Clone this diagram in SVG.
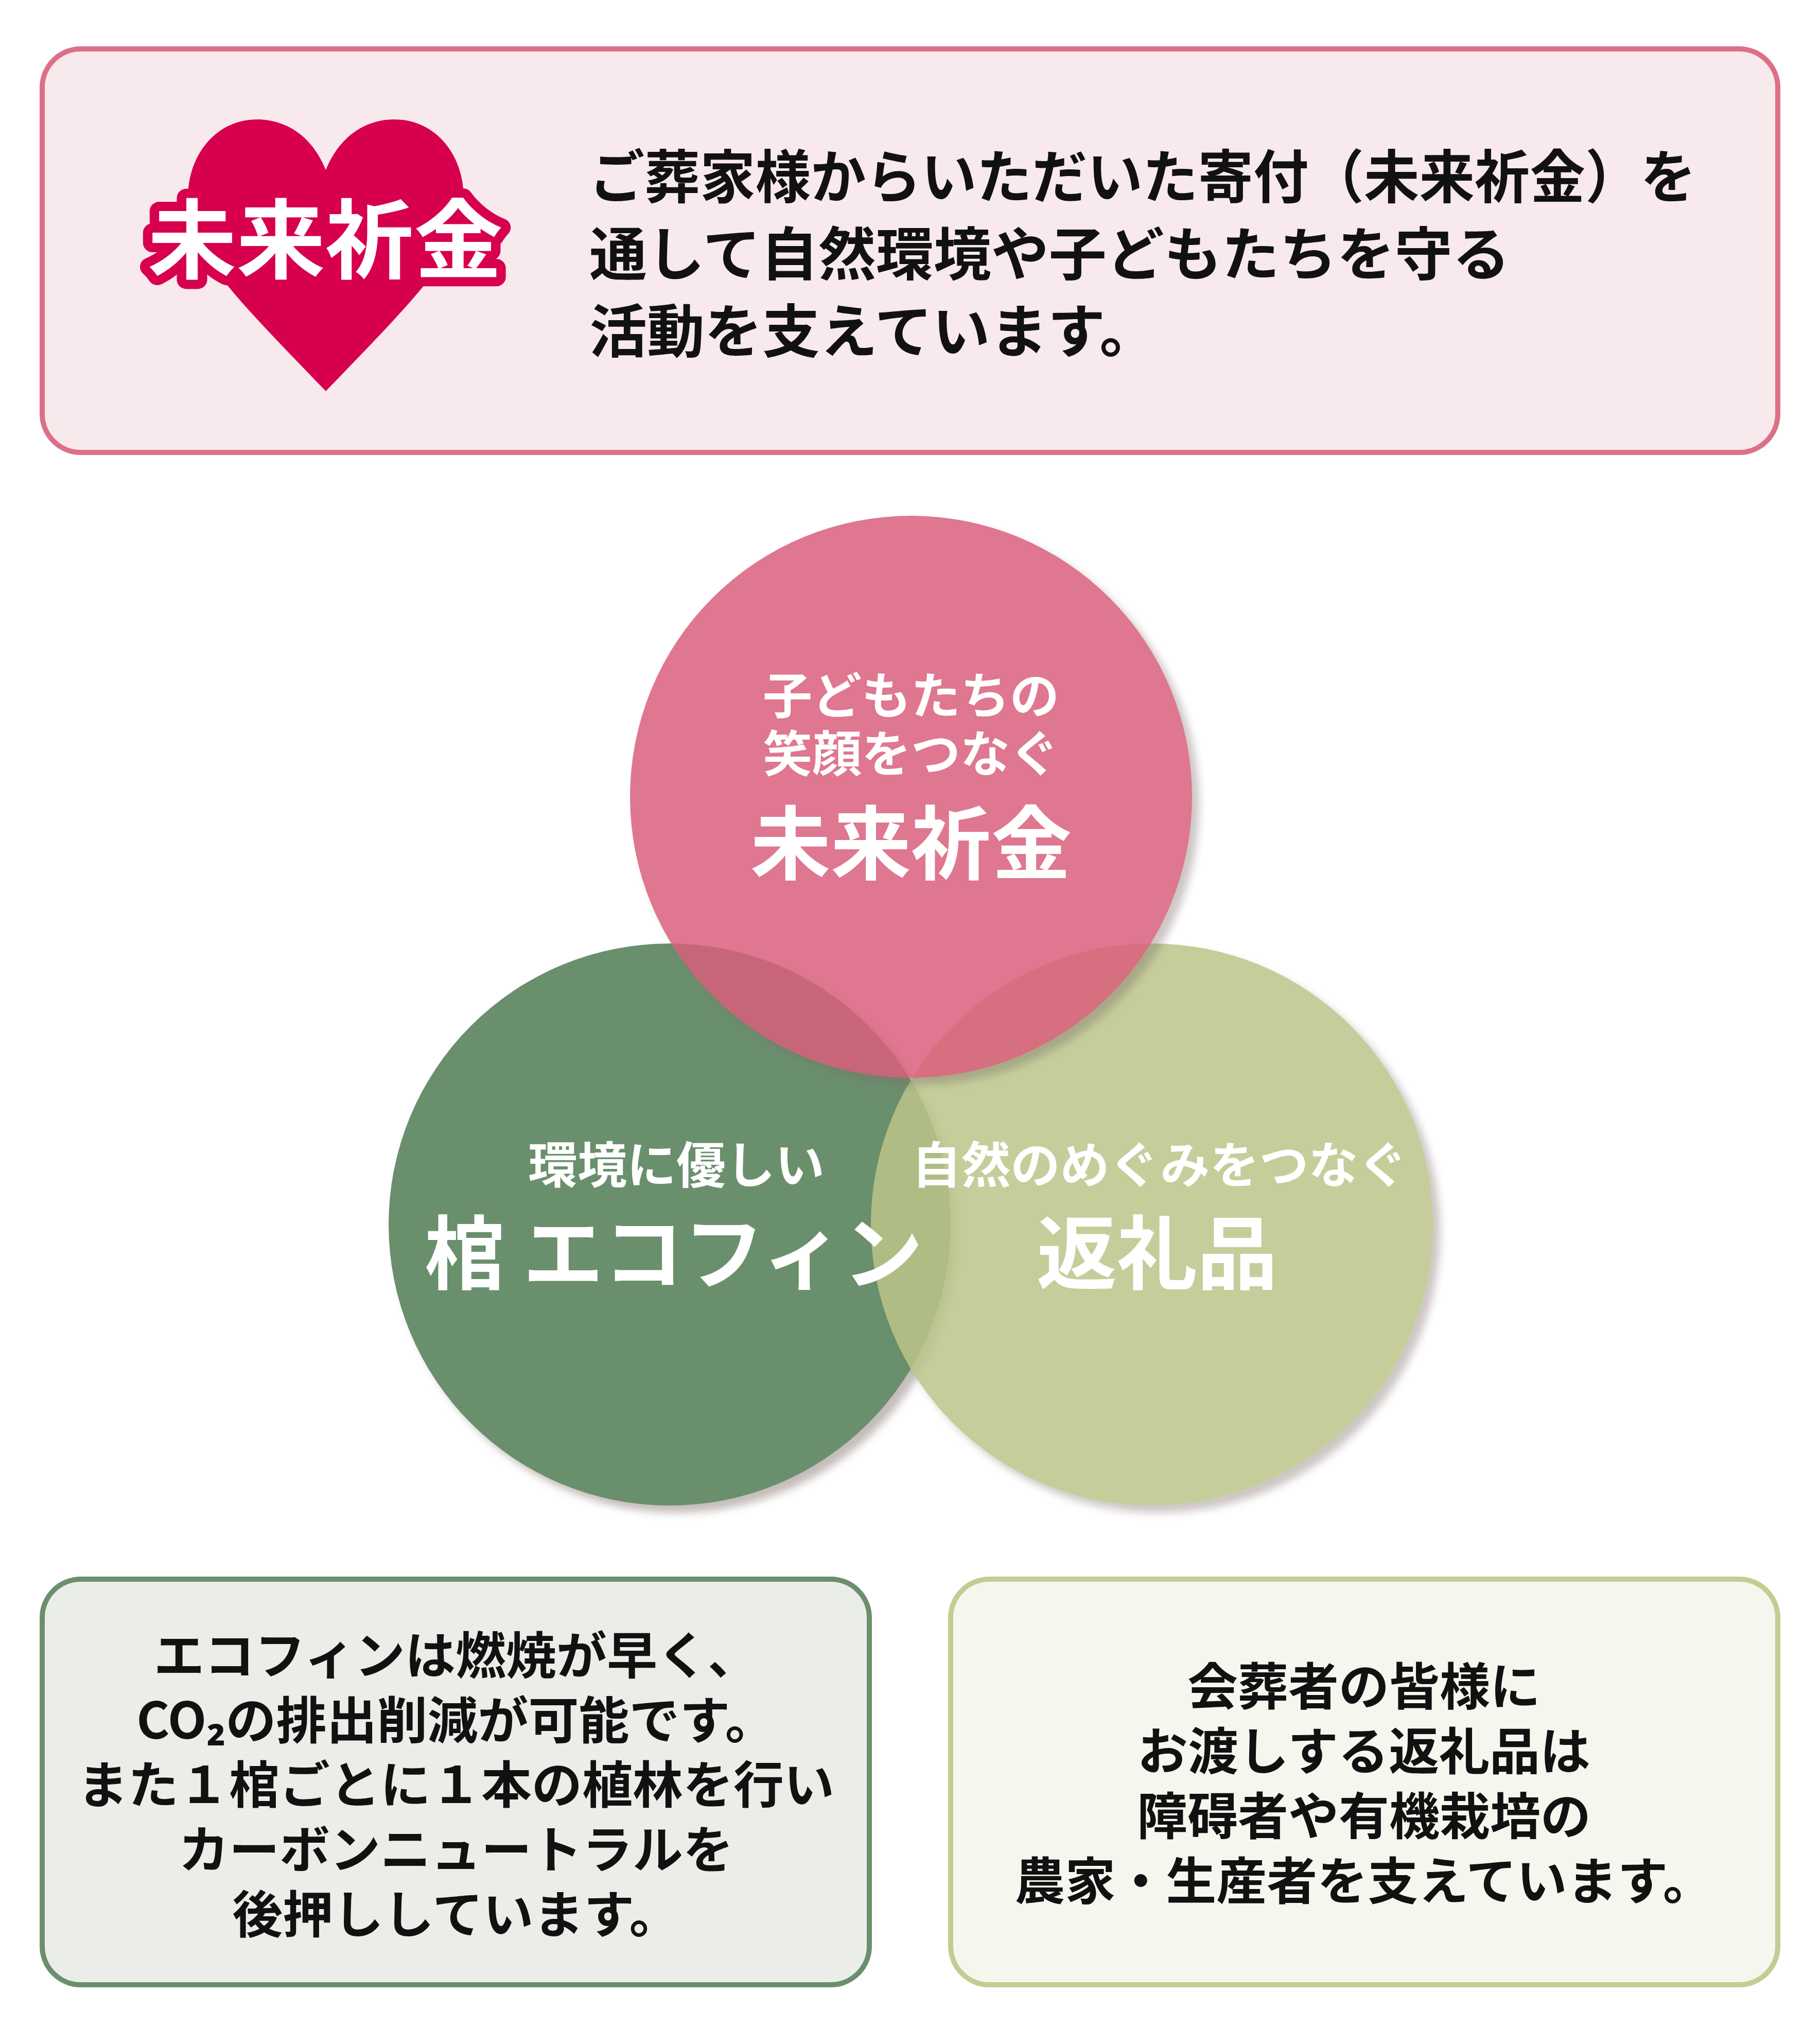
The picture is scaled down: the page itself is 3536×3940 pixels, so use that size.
<svg xmlns="http://www.w3.org/2000/svg" width="3536" height="3940" viewBox="0 0 3536 3940">
<style>
text{font-family:"Noto Sans CJK JP","Noto Sans",sans-serif;font-weight:700}
.dark{fill:#111}
.w{fill:#fff;text-anchor:middle}
.c{text-anchor:middle;fill:#111;font-size:98px}
</style>
<defs>
<filter id="sh" x="-20%" y="-20%" width="140%" height="140%"><feDropShadow dx="14" dy="14" stdDeviation="8" flood-color="#7a6a66" flood-opacity="0.45"/></filter>
</defs>
<rect width="3536" height="3940" fill="#fff"/>
<g id="top-box">
<rect x="82" y="95" width="3372" height="784" rx="75" fill="#f8e9ec" stroke="#dc7087" stroke-width="10"/>
<path d="M633,330 C600,250 540,232 500,232 C420,232 365,300 365,385 C365,485 440,560 633,760 C826,560 901,485 901,385 C901,300 846,232 766,232 C726,232 666,250 633,330 Z" fill="#d6004f"/>
<text x="632" y="528" class="w" font-size="168" textLength="690" lengthAdjust="spacingAndGlyphs" stroke="#d6004f" stroke-width="36" stroke-linejoin="round" paint-order="stroke">未来祈金</text>
<text x="1145" y="385" class="dark" font-size="112" textLength="2150" lengthAdjust="spacingAndGlyphs">ご葬家様からいただいた寄付（未来祈金）を</text>
<text x="1145" y="535" class="dark" font-size="112">通して自然環境や子どもたちを守る</text>
<text x="1145" y="685" class="dark" font-size="112">活動を支えています。</text>
</g>
<g id="circle-green"><circle cx="1301" cy="2379" r="546" fill="#6b8f6d" filter="url(#sh)"/></g>
<g id="circle-olive"><circle cx="2238" cy="2379" r="546" fill="#bcc68a" opacity="0.85" filter="url(#sh)"/></g>
<g id="circle-pink"><circle cx="1770" cy="1548" r="546" fill="#d9607c" opacity="0.85" filter="url(#sh)"/></g>
<g id="labels">
<text x="1770" y="1386" class="w" font-size="96">子どもたちの</text>
<text x="1770" y="1499" class="w" font-size="96">笑顔をつなぐ</text>
<text x="1770" y="1696" class="w" font-size="156">未来祈金</text>
<text x="1314" y="2298" class="w" font-size="96">環境に優しい</text>
<text x="1309" y="2492" class="w" font-size="156">棺 エコフィン</text>
<text x="2253" y="2298" class="w" font-size="96">自然のめぐみをつなぐ</text>
<text x="2248" y="2492" class="w" font-size="156">返礼品</text>
</g>
<g id="box-left">
<rect x="82" y="3068" width="1607" height="788" rx="75" fill="#ebeee8" stroke="#6b8f6d" stroke-width="10"/>
<text x="886" y="3252" class="c">エコフィンは燃焼が早く、</text>
<text x="886" y="3378" class="c">CO₂の排出削減が可能です。</text>
<text x="886" y="3503" class="c">また１棺ごとに１本の植林を行い</text>
<text x="886" y="3629" class="c">カーボンニュートラルを</text>
<text x="886" y="3755" class="c">後押ししています。</text>
</g>
<g id="box-right">
<rect x="1847" y="3068" width="1607" height="788" rx="75" fill="#f5f6ee" stroke="#c3cc93" stroke-width="10"/>
<text x="2650" y="3312" class="c">会葬者の皆様に</text>
<text x="2650" y="3438" class="c">お渡しする返礼品は</text>
<text x="2650" y="3564" class="c">障碍者や有機栽培の</text>
<text x="2650" y="3690" class="c">農家・生産者を支えています。</text>
</g>
<g id="connectors"/>
</svg>
